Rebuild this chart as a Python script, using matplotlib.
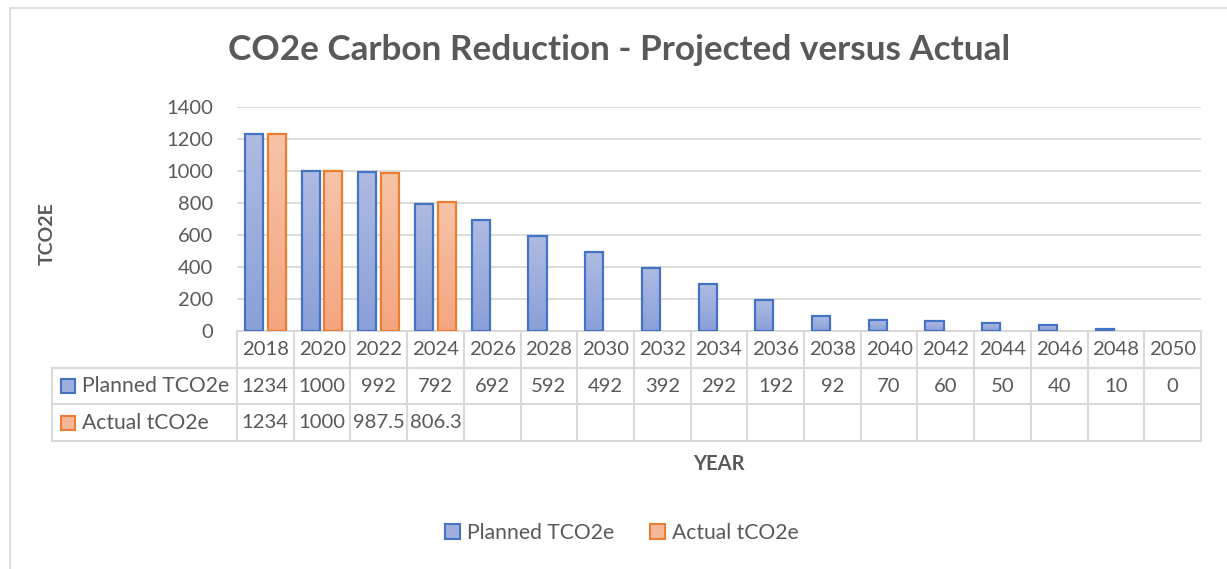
import numpy as np
import matplotlib.pyplot as plt
from matplotlib.patches import Patch, Rectangle
from matplotlib.colors import LinearSegmentedColormap
from matplotlib.transforms import blended_transform_factory

plt.rcParams['font.family'] = ['Lato', 'DejaVu Sans']

# Données
years = ['2018', '2020', '2022', '2024', '2026', '2028', '2030', '2032', '2034',
         '2036', '2038', '2040', '2042', '2044', '2046', '2048', '2050']
planned = [1234, 1000, 992, 792, 692, 592, 492, 392, 292, 192, 92, 70, 60, 50, 40, 10, 0]
actual = [1234, 1000, 987.5, 806.3]
series_names = ['Planned TCO2e', 'Actual tCO2e']

# Couleurs (style Excel)
gris = '#595959'
ligne = '#d9d9d9'
bleu_bord, bleu_haut, bleu_bas = '#4472c4', '#aebbe2', '#8aa0d9'
orange_bord, orange_haut, orange_bas = '#ed7d31', '#f7c4a8', '#f4a57f'

W, H, dpi = 1227, 569, 100
fig = plt.figure(figsize=(W / dpi, H / dpi), dpi=dpi)

# cadre du graphique
fig.add_artist(Rectangle((10 / W, -0.05), 1.1, 1 - 8 / H + 0.05, transform=fig.transFigure,
                         facecolor='none', edgecolor=ligne, lw=1.2))

ax = fig.add_axes([237 / W, 1 - 331 / H, (1201 - 237) / W, (331 - 107) / H])

x = np.arange(len(years))
bw = 0.32
off = 0.2


def barres_degrade(xs, vals, haut, bas, bord):
    cmap = LinearSegmentedColormap.from_list('g', [bas, haut])
    bars = ax.bar(xs, vals, bw, facecolor='none', edgecolor=bord, lw=1.6, zorder=4)
    grad = np.linspace(0, 1, 100).reshape(-1, 1)
    for b in bars:
        h = b.get_height()
        if h <= 0:
            b.set_visible(False)
            continue
        x0 = b.get_x()
        ax.imshow(grad, extent=[x0, x0 + b.get_width(), 0, h], origin='lower',
                  cmap=cmap, aspect='auto', zorder=3, interpolation='bilinear')
    return bars


barres_degrade(x - off, planned, bleu_haut, bleu_bas, bleu_bord)
barres_degrade(x[:len(actual)] + off, actual, orange_haut, orange_bas, orange_bord)

ax.set_xlim(-0.5, len(years) - 0.5)
ax.set_ylim(0, 1400)
ax.set_yticks(np.arange(0, 1401, 200))
ax.set_xticks([])
ax.yaxis.grid(True, color=ligne, lw=1.3, zorder=0)
ax.set_axisbelow(True)
for s in ['top', 'right', 'left']:
    ax.spines[s].set_visible(False)
ax.spines['bottom'].set_color(ligne)
ax.spines['bottom'].set_linewidth(1.5)
ax.tick_params(axis='y', length=0, pad=17, labelsize=14.5, labelcolor=gris)

# Table de données sous l'axe
tr = blended_transform_factory(ax.transData, ax.transAxes)
rh = 36.7 / 224
col_px = (1201 - 237) / len(years)
gauche = -0.5 - (237 - 52) / col_px
n = len(years)
# lignes horizontales
for k in [1, 2, 3]:
    ax.plot([gauche, n - 0.5], [-k * rh, -k * rh], color=ligne, lw=1.5, transform=tr, clip_on=False)
# lignes verticales
for i in range(n + 1):
    ax.plot([i - 0.5, i - 0.5], [0, -3 * rh], color=ligne, lw=1.5, transform=tr, clip_on=False)
ax.plot([gauche, gauche], [-rh, -3 * rh], color=ligne, lw=1.5, transform=tr, clip_on=False)

fs_num = 14.6
for i, yr in enumerate(years):
    ax.text(i, -0.5 * rh, yr, ha='center', va='center', fontsize=fs_num, color=gris, transform=tr)
for i, v in enumerate(planned):
    ax.text(i, -1.5 * rh, f'{v:g}', ha='center', va='center', fontsize=fs_num, color=gris, transform=tr)
for i, v in enumerate(actual):
    ax.text(i, -2.5 * rh, f'{v:g}', ha='center', va='center', fontsize=fs_num, color=gris, transform=tr)

sq_w = 14 / col_px
sq_h = 14 / 224
x_sq = -0.5 - (237 - 61) / col_px
x_txt = -0.5 - (237 - 82) / col_px
for k, (nom, fc, ec) in enumerate([(series_names[0], '#9eafde', bleu_bord),
                                    (series_names[1], '#f6b698', orange_bord)]):
    yc = -(1.5 + k) * rh
    ax.add_patch(Rectangle((x_sq, yc - sq_h / 2), sq_w, sq_h, transform=tr, facecolor=fc,
                           edgecolor=ec, lw=1.5, clip_on=False))
    ax.text(x_txt, yc, nom, ha='left', va='center', fontsize=15.2, color=gris, transform=tr)

# Titres
fig.text(619 / W, 1 - 50 / H, 'CO2e Carbon Reduction - Projected versus Actual', ha='center',
         va='center', fontsize=25.3, fontweight='bold', color=gris)
fig.text(47 / W, 1 - 234 / H, 'TCO2E', rotation=90, ha='center', va='center', fontsize=14,
         fontweight='bold', color=gris)
fig.text(719 / W, 1 - 464 / H, 'YEAR', ha='center', va='center', fontsize=14.5,
         fontweight='bold', color=gris)

handles = [Patch(facecolor='#9eafde', edgecolor=bleu_bord, lw=1.5),
           Patch(facecolor='#f6b698', edgecolor=orange_bord, lw=1.5)]
leg = fig.legend(handles, series_names, loc='center', bbox_to_anchor=(622 / W, 1 - 533 / H),
                 ncol=2, frameon=False, fontsize=15.2, handlelength=0.7, handleheight=0.7,
                 handletextpad=0.35, columnspacing=1.7)
for t in leg.get_texts():
    t.set_color(gris)

fig.savefig('out.png', dpi=dpi)
